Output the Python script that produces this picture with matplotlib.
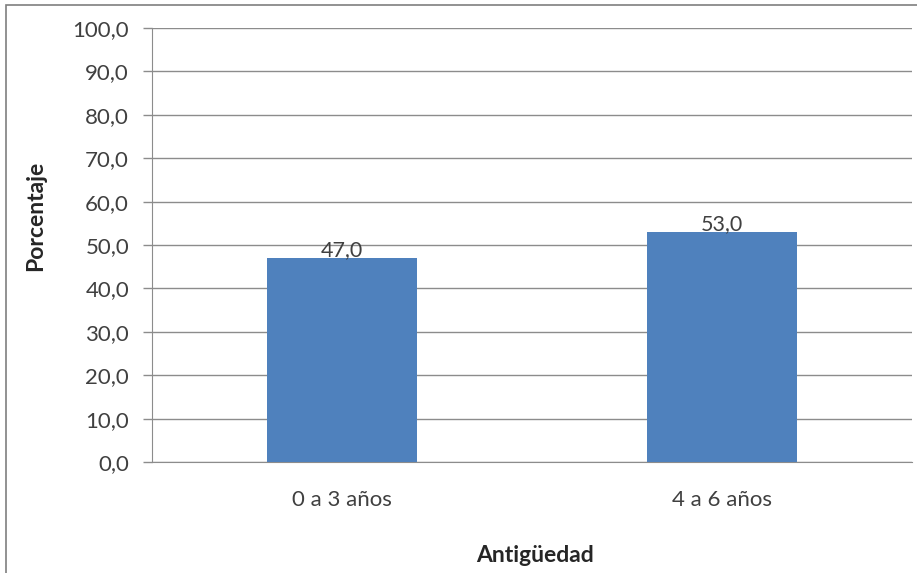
import matplotlib
matplotlib.use("Agg")
import matplotlib.pyplot as plt
from matplotlib.patches import Rectangle

categories = ["0 a 3 años", "4 a 6 años"]
values = [47.0, 53.0]
yticks = [0, 10, 20, 30, 40, 50, 60, 70, 80, 90, 100]

plt.rcParams['font.family'] = ['Lato', 'DejaVu Sans']

fig = plt.figure(figsize=(9.17, 5.73), dpi=100)
ax = fig.add_axes([152/917, 1 - 462/573, (912 - 152)/917, (462 - 28)/573])

x = list(range(len(categories)))
bars = ax.bar(x, values, width=0.395, color="#4f81bd", zorder=3)
for xi, v in zip(x, values):
    ax.text(xi, v - 0.4, f"{v:.1f}".replace(".", ","), ha="center", va="bottom",
            fontsize=15.5, color="#404040", zorder=4)

ax.set_xlim(-0.5, len(categories) - 0.5)
ax.set_ylim(0, 100)
ax.set_yticks(yticks)
ax.set_yticklabels([f"{t:.1f}".replace(".", ",") for t in yticks], fontsize=16, color="#404040")
ax.set_xticks(x)
ax.set_xticklabels(categories, fontsize=16, color="#404040")
ax.tick_params(axis="x", length=0, pad=20)
ax.tick_params(axis="y", length=6.5, width=1, color="#8c8c8c", pad=10)
ax.grid(axis="y", color="#8c8c8c", linewidth=1, zorder=0)
for side in ["top", "right"]:
    ax.spines[side].set_visible(False)
ax.spines["left"].set_color("#8c8c8c")
ax.spines["bottom"].set_color("#8c8c8c")

ax.set_ylabel("Porcentaje", fontsize=16.5, fontweight="bold", color="#262626", va="center")
ax.set_xlabel("Antigüedad", fontsize=16.5, fontweight="bold", color="#262626", va="center")
ax.yaxis.set_label_coords((36 - 152) / 760, (462 - 216) / 434)
ax.xaxis.set_label_coords((535 - 152) / 760, (462 - 556) / 434)

fig.patches.append(Rectangle((6/917, -0.02), 1.1, 1 - 5/573 + 0.02, transform=fig.transFigure,
                             fill=False, edgecolor="#7f7f7f", linewidth=1.2))

fig.savefig("out.png", dpi=100)
